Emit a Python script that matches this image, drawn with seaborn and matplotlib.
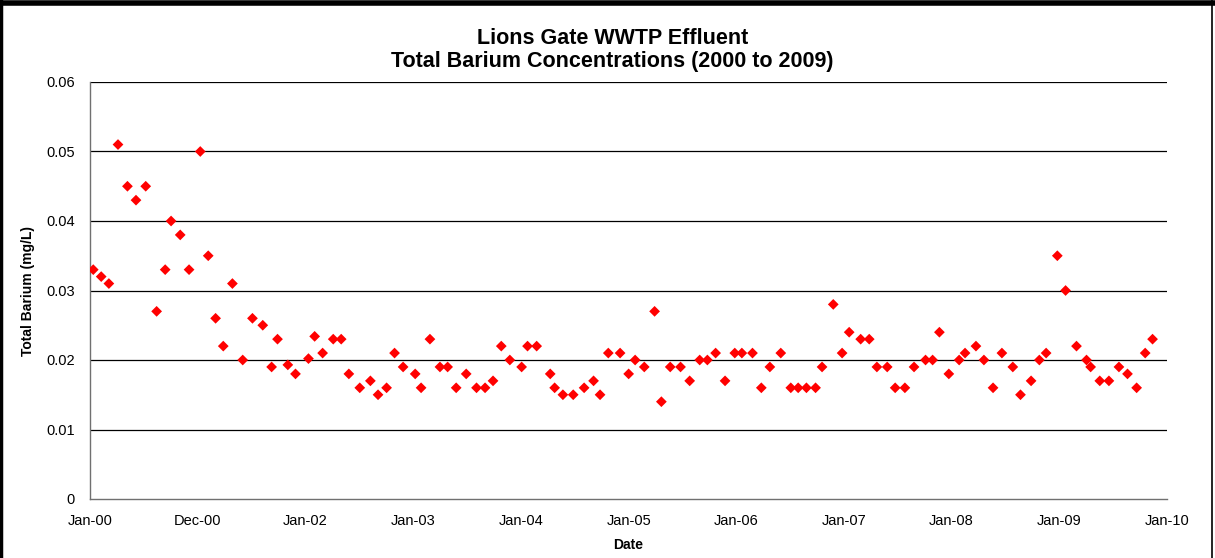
import pandas as pd
import matplotlib.pyplot as plt
import seaborn as sns
from matplotlib.lines import Line2D
from matplotlib.ticker import FuncFormatter

# Sampling dates and total barium (mg/L)
sample_dates = [
    '2000-01-12', '2000-02-08', '2000-03-05', '2000-04-05', '2000-05-07', '2000-06-05',
    '2000-07-08', '2000-08-14', '2000-09-12', '2000-10-02', '2000-11-02', '2000-12-02',
    '2001-01-09', '2001-02-05', '2001-03-02', '2001-03-28', '2001-04-28', '2001-06-02',
    '2001-07-05', '2001-08-09', '2001-09-08', '2001-09-28', '2001-11-02', '2001-11-28',
    '2002-01-11', '2002-02-01', '2002-02-28', '2002-04-05', '2002-05-02', '2002-05-28',
    '2002-07-04', '2002-08-09', '2002-09-04', '2002-10-03', '2002-10-30', '2002-11-28',
    '2003-01-08', '2003-01-28', '2003-02-27', '2003-04-02', '2003-04-28', '2003-05-27',
    '2003-06-30', '2003-08-04', '2003-09-02', '2003-09-29', '2003-10-27', '2003-11-25',
    '2004-01-04', '2004-01-24', '2004-02-24', '2004-04-10', '2004-04-25', '2004-05-23',
    '2004-06-27', '2004-08-03', '2004-09-04', '2004-09-26', '2004-10-24', '2004-12-03',
    '2005-01-01', '2005-01-23', '2005-02-23', '2005-03-30', '2005-04-22', '2005-05-22',
    '2005-06-26', '2005-07-27', '2005-08-30', '2005-09-25', '2005-10-23', '2005-11-24',
    '2005-12-27', '2006-01-20', '2006-02-25', '2006-03-27', '2006-04-25', '2006-06-01',
    '2006-07-05', '2006-07-30', '2006-08-27', '2006-09-27', '2006-10-19', '2006-11-26',
    '2006-12-26', '2007-01-19', '2007-02-27', '2007-03-28', '2007-04-23', '2007-05-28',
    '2007-06-24', '2007-07-27', '2007-08-27', '2007-10-05', '2007-10-29', '2007-11-21',
    '2007-12-23', '2008-01-27', '2008-02-16', '2008-03-24', '2008-04-20', '2008-05-21',
    '2008-06-20', '2008-07-27', '2008-08-22', '2008-09-27', '2008-10-25', '2008-11-17',
    '2008-12-25', '2009-01-22', '2009-02-28', '2009-04-03', '2009-04-17', '2009-05-18',
    '2009-06-18', '2009-07-22', '2009-08-20', '2009-09-20', '2009-10-19', '2009-11-13',
]
barium = [
    0.033, 0.032, 0.031, 0.051, 0.045, 0.043,
    0.045, 0.027, 0.033, 0.040, 0.038, 0.033,
    0.050, 0.035, 0.026, 0.022, 0.031, 0.020,
    0.026, 0.025, 0.019, 0.023, 0.0193, 0.018,
    0.0202, 0.0234, 0.021, 0.023, 0.023, 0.018,
    0.016, 0.017, 0.015, 0.016, 0.021, 0.019,
    0.018, 0.016, 0.023, 0.019, 0.019, 0.016,
    0.018, 0.016, 0.016, 0.017, 0.022, 0.020,
    0.019, 0.022, 0.022, 0.018, 0.016, 0.015,
    0.015, 0.016, 0.017, 0.015, 0.021, 0.021,
    0.018, 0.020, 0.019, 0.027, 0.014, 0.019,
    0.019, 0.017, 0.020, 0.020, 0.021, 0.017,
    0.021, 0.021, 0.021, 0.016, 0.019, 0.021,
    0.016, 0.016, 0.016, 0.016, 0.019, 0.028,
    0.021, 0.024, 0.023, 0.023, 0.019, 0.019,
    0.016, 0.016, 0.019, 0.020, 0.020, 0.024,
    0.018, 0.020, 0.021, 0.022, 0.020, 0.016,
    0.021, 0.019, 0.015, 0.017, 0.020, 0.021,
    0.035, 0.030, 0.022, 0.020, 0.019, 0.017,
    0.017, 0.019, 0.018, 0.016, 0.021, 0.023,
]
tick_labels = ['Jan-00', 'Dec-00', 'Jan-02', 'Jan-03', 'Jan-04', 'Jan-05',
               'Jan-06', 'Jan-07', 'Jan-08', 'Jan-09', 'Jan-10']
y_ticks = [0, 0.01, 0.02, 0.03, 0.04, 0.05, 0.06]

df = pd.DataFrame({'Date': pd.to_datetime(sample_dates),
                   'Total Barium (mg/L)': barium})

sns.set_style('white', {'text.color': 'black', 'axes.labelcolor': 'black',
                        'xtick.color': 'black', 'ytick.color': 'black'})
plt.rcParams['font.family'] = ['Liberation Sans', 'DejaVu Sans']

fig = plt.figure(figsize=(12.15, 5.58), dpi=100)
ax = fig.add_axes([90 / 1215, 1 - 499 / 558, 1077 / 1215, 417 / 558])

sns.scatterplot(data=df, x='Date', y='Total Barium (mg/L)', marker='D', s=30,
                color='#ff0000', edgecolor='none', linewidth=0, ax=ax, zorder=3)

# axes
tick_dates = pd.date_range('2000-01-01', periods=len(tick_labels), freq='YS')
ax.set_xlim(tick_dates[0], tick_dates[-1])
ax.set_xticks(tick_dates)
ax.set_xticklabels(tick_labels)
ax.set_ylim(0, 0.06)
ax.set_yticks(y_ticks)
ax.yaxis.set_major_formatter(FuncFormatter(lambda v, p: f'{v:g}'))

for y in y_ticks[1:]:
    ax.axhline(y, color='black', lw=0.9, zorder=1)

for side in ['top', 'right']:
    ax.spines[side].set_visible(False)
for side in ['left', 'bottom']:
    ax.spines[side].set_color('#707070')
    ax.spines[side].set_linewidth(1.0)

ax.tick_params(axis='both', direction='out', length=5, width=1, color='#707070',
               labelsize=10.5, labelcolor='black')
ax.tick_params(axis='y', pad=6)
ax.tick_params(axis='x', pad=6)

ax.set_title('Lions Gate WWTP Effluent\nTotal Barium Concentrations (2000 to 2009)',
             fontsize=15.5, fontweight='bold', color='black', pad=11,
             linespacing=1.13, x=0.485)
ax.set_xlabel('Date', fontsize=10, fontweight='bold', color='black')
ax.set_ylabel('Total Barium (mg/L)', fontsize=10, fontweight='bold', color='black')
ax.xaxis.set_label_coords(0.5, -0.093)
ax.yaxis.set_label_coords(-0.051, 0.5)

# outer chart frame
fig.add_artist(Line2D([0, 1], [0.995, 0.995], color='black', lw=4, transform=fig.transFigure))
fig.add_artist(Line2D([0.0012, 0.0012], [0, 1], color='black', lw=2.5, transform=fig.transFigure))
fig.add_artist(Line2D([0.9975, 0.9975], [0, 1], color='black', lw=1.2, transform=fig.transFigure))

plt.savefig('out.png', dpi=100)
plt.close()
